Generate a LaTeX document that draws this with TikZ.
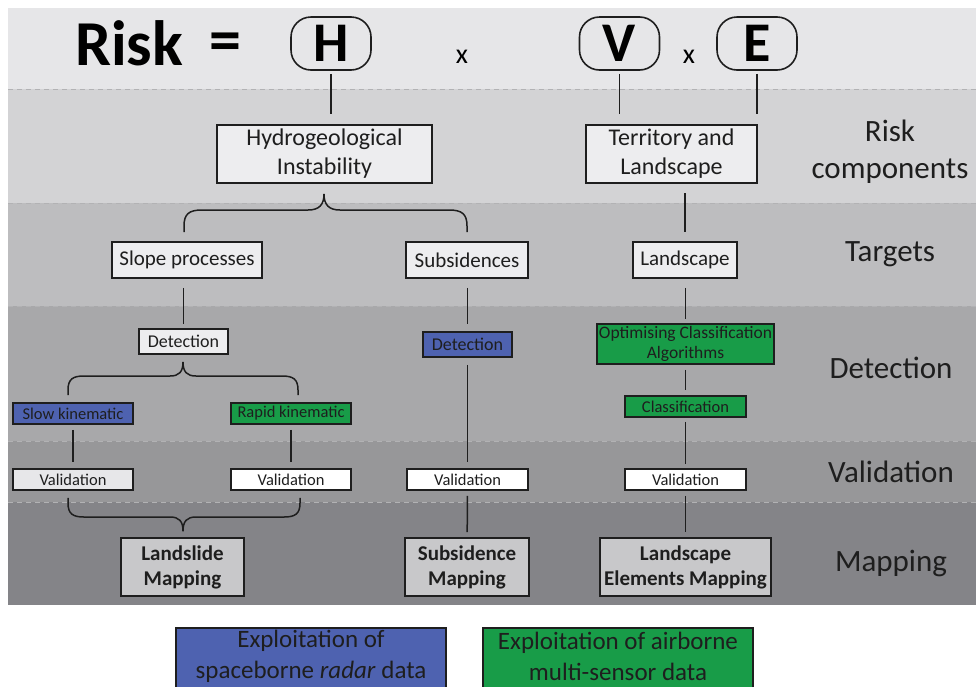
\documentclass[tikz,border=0pt]{standalone}
\usepackage{fontspec}
\setmainfont{Carlito}
\usetikzlibrary{calc}
\definecolor{bandA}{RGB}{230,230,232}
\definecolor{bandB}{RGB}{211,211,213}
\definecolor{bandC}{RGB}{189,189,191}
\definecolor{bandD}{RGB}{168,168,170}
\definecolor{bandE}{RGB}{151,151,153}
\definecolor{bandF}{RGB}{132,132,136}
\definecolor{sepline}{RGB}{178,178,180}
\definecolor{pale}{RGB}{237,237,239}
\definecolor{paleval}{RGB}{231,231,233}
\definecolor{mapfill}{RGB}{200,200,202}
\definecolor{radarblue}{RGB}{78,98,176}
\definecolor{airgreen}{RGB}{24,156,72}
\definecolor{ink}{RGB}{30,30,30}
\newcommand{\fs}[2]{\fontsize{#1}{#2}\selectfont}
\tikzset{
  band/.style={fill=#1, draw=none},
  sep/.style={draw=sepline, line width=1pt, dash pattern=on 5pt off 4pt},
  box/.style={draw=ink, line width=1.6pt, inner sep=0pt, align=center, text=ink},
  factor/.style={draw=ink, line width=1.6pt, rounded corners=20pt, minimum width=80pt,
    minimum height=53pt, inner sep=0pt, font=\fs{56}{60}\bfseries, text=black},
  link/.style={draw=ink, line width=1.5pt},
  gap/.style={shorten <=#1, shorten >=#1},
  rowlabel/.style={align=center, text=ink, font=\fs{31}{37}},
  legend/.style={draw=ink, line width=1.4pt, inner sep=0pt, align=center, text=ink,
    minimum width=270pt, minimum height=60pt, font=\fs{25}{31}}
}
\begin{document}
\begin{tikzpicture}[x=1pt,y=-1pt]
\clip (0,0) rectangle (976,686);
\useasboundingbox (0,0) rectangle (976,686);
\fill[white] (0,0) rectangle (976,686);

% horizontal bands of the scheme
\fill[band=bandA] (8,8) rectangle (976,89);
\fill[band=bandB] (8,89) rectangle (976,203);
\fill[band=bandC] (8,203) rectangle (976,306);
\fill[band=bandD] (8,306) rectangle (976,441);
\fill[band=bandE] (8,441) rectangle (976,502);
\fill[band=bandF] (8,502) rectangle (976,605);
\foreach \yy in {89,203,306,441,502}
  \draw[sep] (8,\yy) -- (976,\yy);

% risk equation
\node[anchor=base west, inner sep=0pt, font=\fs{64}{70}\bfseries] (risk) at (75,65) {Risk};
\node[inner sep=0pt, font=\fs{64}{70}\bfseries] (eq) at (225,47) {=};
\node[factor] (H) at (331,43.5) {H};
\node[font=\fs{28}{32}, inner sep=0pt] (x1) at (462,57) {x};
\node[factor] (V) at (619.5,43.5) {V};
\node[font=\fs{28}{32}, inner sep=0pt] (x2) at (689,57) {x};
\node[factor] (E) at (757,43.5) {E};

% risk components
\node[box, fill=pale, minimum width=215pt, minimum height=58pt, font=\fs{24}{29}] (hyd) at (324.5,154) {Hydrogeological\\Instability};
\node[box, fill=pale, minimum width=171pt, minimum height=58pt, font=\fs{24}{29}] (ter) at (671.5,154) {Territory and\\Landscape};

% targets
\node[box, fill=pale, minimum width=150pt, minimum height=36pt, font=\fs{21}{25}] (slope) at (187,260) {Slope processes};
\node[box, fill=pale, minimum width=122pt, minimum height=36pt, font=\fs{21}{25}] (subs) at (467,260) {Subsidences};
\node[box, fill=pale, minimum width=104pt, minimum height=36pt, font=\fs{21}{25}] (land) at (685,260) {Landscape};

% detection
\node[box, fill=pale, minimum width=89pt, minimum height=25pt, font=\fs{18}{21}] (detA) at (183.5,341.5) {Detection};
\node[box, fill=radarblue, minimum width=89pt, minimum height=25pt, font=\fs{18}{21}] (detB) at (467.5,344.5) {Detection};
\node[box, fill=airgreen, minimum width=177pt, minimum height=40pt, font=\fs{17.5}{20}] (opt) at (685.5,344) {Optimising Classification\\Algorithms};
\node[box, fill=radarblue, minimum width=120pt, minimum height=21pt, font=\fs{16.5}{20}] (slow) at (73,413.5) {Slow kinematic};
\node[box, fill=airgreen, minimum width=120pt, minimum height=21pt, font=\fs{16.5}{20}] (rapid) at (291,413.5) {Rapid kinematic};
\node[box, fill=airgreen, minimum width=121pt, minimum height=21pt, font=\fs{16.5}{20}] (cls) at (685.5,406.5) {Classification};

% validation
\node[box, fill=paleval, minimum width=120pt, minimum height=21pt, font=\fs{16.5}{20}] (valA) at (73,479.5) {Validation};
\node[box, fill=white, minimum width=120pt, minimum height=21pt, font=\fs{16.5}{20}] (valB) at (291,479.5) {Validation};
\node[box, fill=white, minimum width=121pt, minimum height=21pt, font=\fs{16.5}{20}] (valC) at (467.5,479.5) {Validation};
\node[box, fill=white, minimum width=121pt, minimum height=21pt, font=\fs{16.5}{20}] (valD) at (685.5,479.5) {Validation};

% mapping
\node[box, fill=mapfill, minimum width=123pt, minimum height=58pt, font=\fs{21}{25}\bfseries] (mapA) at (182.5,567) {Landslide\\Mapping};
\node[box, fill=mapfill, minimum width=124pt, minimum height=58pt, font=\fs{21}{25}\bfseries] (mapB) at (467,567) {Subsidence\\Mapping};
\node[box, fill=mapfill, minimum width=171pt, minimum height=58pt, font=\fs{21}{25}\bfseries] (mapC) at (685.5,567) {Landscape\\Elements Mapping};

% row labels
\node[rowlabel] (lRisk) at (890,152) {Risk\\components};
\node[rowlabel] (lTarget) at (890,254) {Targets};
\node[rowlabel] (lDetect) at (891,368) {Detection};
\node[rowlabel] (lValid) at (891,472) {Validation};
\node[rowlabel] (lMap) at (891,563) {Mapping};

% straight connectors
\draw[link, shorten <=3pt, shorten >=10pt] (H.south) -- (H.south |- hyd.north);
\draw[link, shorten <=3pt, shorten >=10pt] (V.south) -- (V.south |- ter.north);
\draw[link, shorten <=3pt, shorten >=10pt] (E.south) -- (E.south |- ter.north);
\draw[link, gap=9.5pt] (land.north |- ter.south) -- (land.north);
\draw[link, shorten <=9pt, shorten >=4pt] (detA.north |- slope.south) -- (detA.north);
\draw[link, shorten <=9pt, shorten >=7pt] (detB.north |- subs.south) -- (detB.north);
\draw[link, shorten <=9pt, shorten >=4pt] (opt.north |- land.south) -- (opt.north);
\draw[link, shorten <=5pt, shorten >=6pt] (slow) -- (valA);
\draw[link, shorten <=5pt, shorten >=6pt] (rapid) -- (valB);
\draw[link, shorten <=7pt, shorten >=6pt] (detB) -- (valC);
\draw[link, gap=5pt] (opt) -- (cls);
\draw[link, shorten <=4pt, shorten >=4pt] (cls) -- (valD);
\draw[link, shorten <=5pt, shorten >=5pt] (valC) -- (mapB);
\draw[link, shorten <=5pt, shorten >=5pt] (valD) -- (mapC);

% braces: Hydrogeological Instability -> slope processes / subsidences
\coordinate (bA1) at ([yshift=9pt]slope.north -| 184,0);
\coordinate (bA2) at ([yshift=-10pt]hyd.south -| 324,0);
\coordinate (bA3) at ([yshift=9pt]subs.north);
\draw[link]
  (bA1) -- (184,226) .. controls (184,214) and (189,210) .. (202,210) -- (308,210)
  .. controls (319,210) and (324,205) .. (bA2)
  .. controls (324,205) and (329,210) .. (340,210) -- (449,210)
  .. controls (462,210) and (467,214) .. (467,226) -- (bA3);

% brace: detection -> slow / rapid kinematic
\coordinate (bB1) at ([yshift=7pt]slow.north -| 68,0);
\coordinate (bB2) at ([yshift=-7pt]detA.south -| 183,0);
\coordinate (bB3) at ([yshift=7pt]rapid.north -| 298,0);
\draw[link]
  (bB1) -- (68,390) .. controls (68,379) and (73,376) .. (84,376) -- (170,376)
  .. controls (179,376) and (183,372) .. (bB2)
  .. controls (183,372) and (187,376) .. (196,376) -- (282,376)
  .. controls (293,376) and (298,379) .. (298,390) -- (bB3);

% brace: validations -> landslide mapping
\coordinate (bC1) at ([yshift=-7pt]valA.south -| 68,0);
\coordinate (bC2) at ([yshift=6pt]mapA.north -| 183,0);
\coordinate (bC3) at ([yshift=-7pt]valB.south -| 300,0);
\draw[link]
  (bC1) -- (68,503) .. controls (68,514) and (73,517) .. (84,517) -- (170,517)
  .. controls (179,517) and (183,521) .. (bC2)
  .. controls (183,521) and (187,517) .. (196,517) -- (284,517)
  .. controls (295,517) and (300,514) .. (300,503) -- (bC3);

% data-source legend
\node[legend, fill=radarblue] (lgRadar) at (311,658) {};
\node[align=center, text=ink, font=\fs{25}{31}, inner sep=0pt] (lgRadarT) at (311,656) {Exploitation of\\spaceborne \textit{radar} data};
\node[legend, fill=airgreen] (lgAir) at (618,658) {};
\node[align=center, text=ink, font=\fs{25}{31}, inner sep=0pt] (lgAirT) at (618,656) {Exploitation of airborne\\multi-sensor data};
\end{tikzpicture}
\end{document}
